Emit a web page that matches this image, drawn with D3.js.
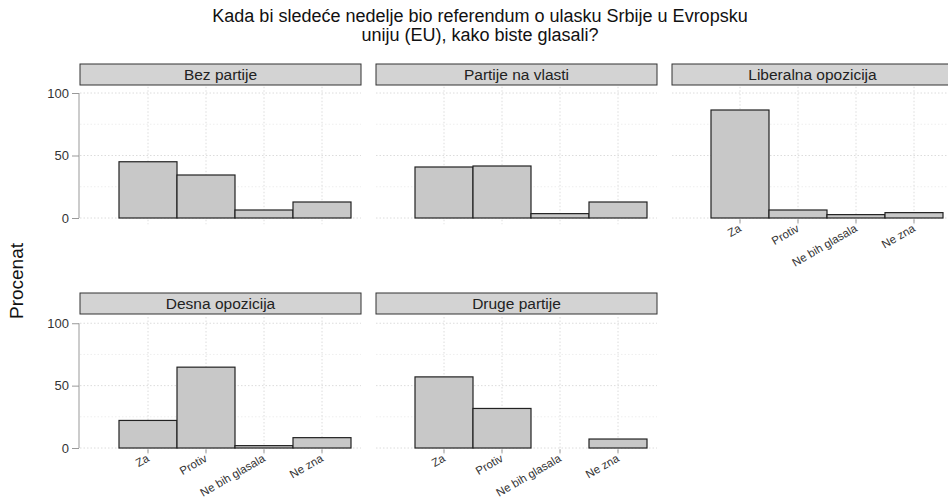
<!DOCTYPE html>
<html><head><meta charset="utf-8">
<script src="https://cdn.jsdelivr.net/npm/d3@7"></script>
<style>body{margin:0;background:#fff}svg{display:block;font-family:"Liberation Sans",Arial,sans-serif}</style>
</head><body>
<svg id="c" width="948" height="502"></svg>
<script>
const categories = ["Za", "Protiv", "Ne bih glasala", "Ne zna"];
const groups = ["Bez partije", "Partije na vlasti", "Liberalna opozicija", "Desna opozicija", "Druge partije"];
const bezPartije = [45, 34.4, 6.4, 12.8];
const partijeNaVlasti = [40.8, 41.6, 3.5, 12.8];
const liberalnaOpozicija = [86.4, 6.4, 2.7, 4.3];
const desnaOpozicija = [22.1, 64.8, 1.9, 8.3];
const drugePartije = [57, 31.7, 0, 7.2];
const yTicks = [0, 50, 100];
const yMinor = [25, 75];
const titleLines = ["Kada bi sledeće nedelje bio referendum o ulasku Srbije u Evropsku", "uniju (EU), kako biste glasali?"];
const yLabel = "Procenat";

const seriesValues = [bezPartije, partijeNaVlasti, liberalnaOpozicija, desnaOpozicija, drugePartije];

const svg = d3.select("#c");
const colLeft = [80, 376, 672];
const panelW = 281;
const rows = [{stripTop: 64, stripH: 21, top: 86.75, bottom: 224.25},
              {stripTop: 293, stripH: 21, top: 317, bottom: 454.25}];

// title
svg.append("g").selectAll("text").data(titleLines).join("text")
  .attr("x", 480).attr("y", (d, i) => 22 + i * 19)
  .attr("text-anchor", "middle").attr("font-size", 18).attr("fill", "#111")
  .text(d => d);

svg.append("text").attr("transform", "translate(23,281) rotate(-90)")
  .attr("text-anchor", "middle").attr("font-size", 19).attr("fill", "#111").text(yLabel);

groups.forEach((g, gi) => {
  const col = gi % 3, row = Math.floor(gi / 3);
  const L = colLeft[col], R = L + panelW, rw = rows[row];
  const x = d3.scaleBand().domain(categories).range([L + 39, L + 271]).padding(0);
  const y = d3.scaleLinear().domain([-5, 105]).range([rw.bottom, rw.top]);
  const p = svg.append("g");

  // strip
  p.append("rect").attr("x", L).attr("y", rw.stripTop).attr("width", panelW).attr("height", rw.stripH)
    .attr("fill", "#d3d3d3").attr("stroke", "#333").attr("stroke-width", 1);
  p.append("text").attr("x", L + panelW / 2).attr("y", rw.stripTop + rw.stripH / 2 + 5.5)
    .attr("text-anchor", "middle").attr("font-size", 15.5).attr("fill", "#222").text(g);

  // grid
  const grid = p.append("g").attr("stroke", "#dcdcdc").attr("stroke-dasharray", "1.5,2").attr("stroke-width", 1);
  grid.selectAll("line.h").data(yTicks).join("line").attr("class", "h")
    .attr("x1", L).attr("x2", R).attr("y1", d => y(d)).attr("y2", d => y(d));
  grid.selectAll("line.hm").data(yMinor).join("line").attr("class", "hm")
    .attr("x1", L).attr("x2", R).attr("y1", d => y(d)).attr("y2", d => y(d)).attr("stroke", "#eeeeee");
  grid.selectAll("line.v").data(categories).join("line").attr("class", "v")
    .attr("x1", d => x(d) + x.bandwidth() / 2).attr("x2", d => x(d) + x.bandwidth() / 2)
    .attr("y1", rw.top).attr("y2", rw.bottom);

  // bars
  p.selectAll("rect.bar").data(categories.map((c, i) => ({c, v: seriesValues[gi][i]}))).join("rect")
    .attr("class", "bar")
    .attr("x", d => x(d.c)).attr("width", x.bandwidth())
    .attr("y", d => y(d.v)).attr("height", d => y(0) - y(d.v))
    .attr("fill", "#c8c8c8").attr("stroke", "#222").attr("stroke-width", 1.2);

  // y axis for left column
  if (col === 0) {
    const ax = d3.axisLeft(y).tickValues(yTicks).tickSize(7).tickPadding(3);
    const ga = p.append("g").attr("transform", `translate(${L - 1},0)`).call(ax);
    ga.select(".domain").remove();
    ga.append("line").attr("x1", 0).attr("x2", 0).attr("y1", y(0)).attr("y2", y(100)).attr("stroke", "#999");
    ga.selectAll(".tick line").attr("stroke", "#999");
    ga.selectAll(".tick text").attr("font-size", 13).attr("fill", "#333").attr("font-family", "Liberation Sans, Arial, sans-serif");
  }

  // x axis where no panel below
  const hasBelow = row === 0 && gi + 3 < groups.length;
  if (!hasBelow) {
    const ax = d3.axisBottom(x).tickSize(4).tickPadding(2);
    const ga = p.append("g").attr("transform", `translate(0,${rw.bottom - 5})`).call(ax);
    ga.select(".domain").remove();
    ga.selectAll(".tick line").attr("stroke", "#999");
    ga.selectAll(".tick text").attr("font-size", 11.5).attr("fill", "#333")
      .attr("font-family", "Liberation Sans, Arial, sans-serif")
      .attr("text-anchor", "end").attr("dy", "0.71em")
      .attr("transform", "translate(-5,-1) rotate(-30)");
  }
});
</script>
</body></html>
